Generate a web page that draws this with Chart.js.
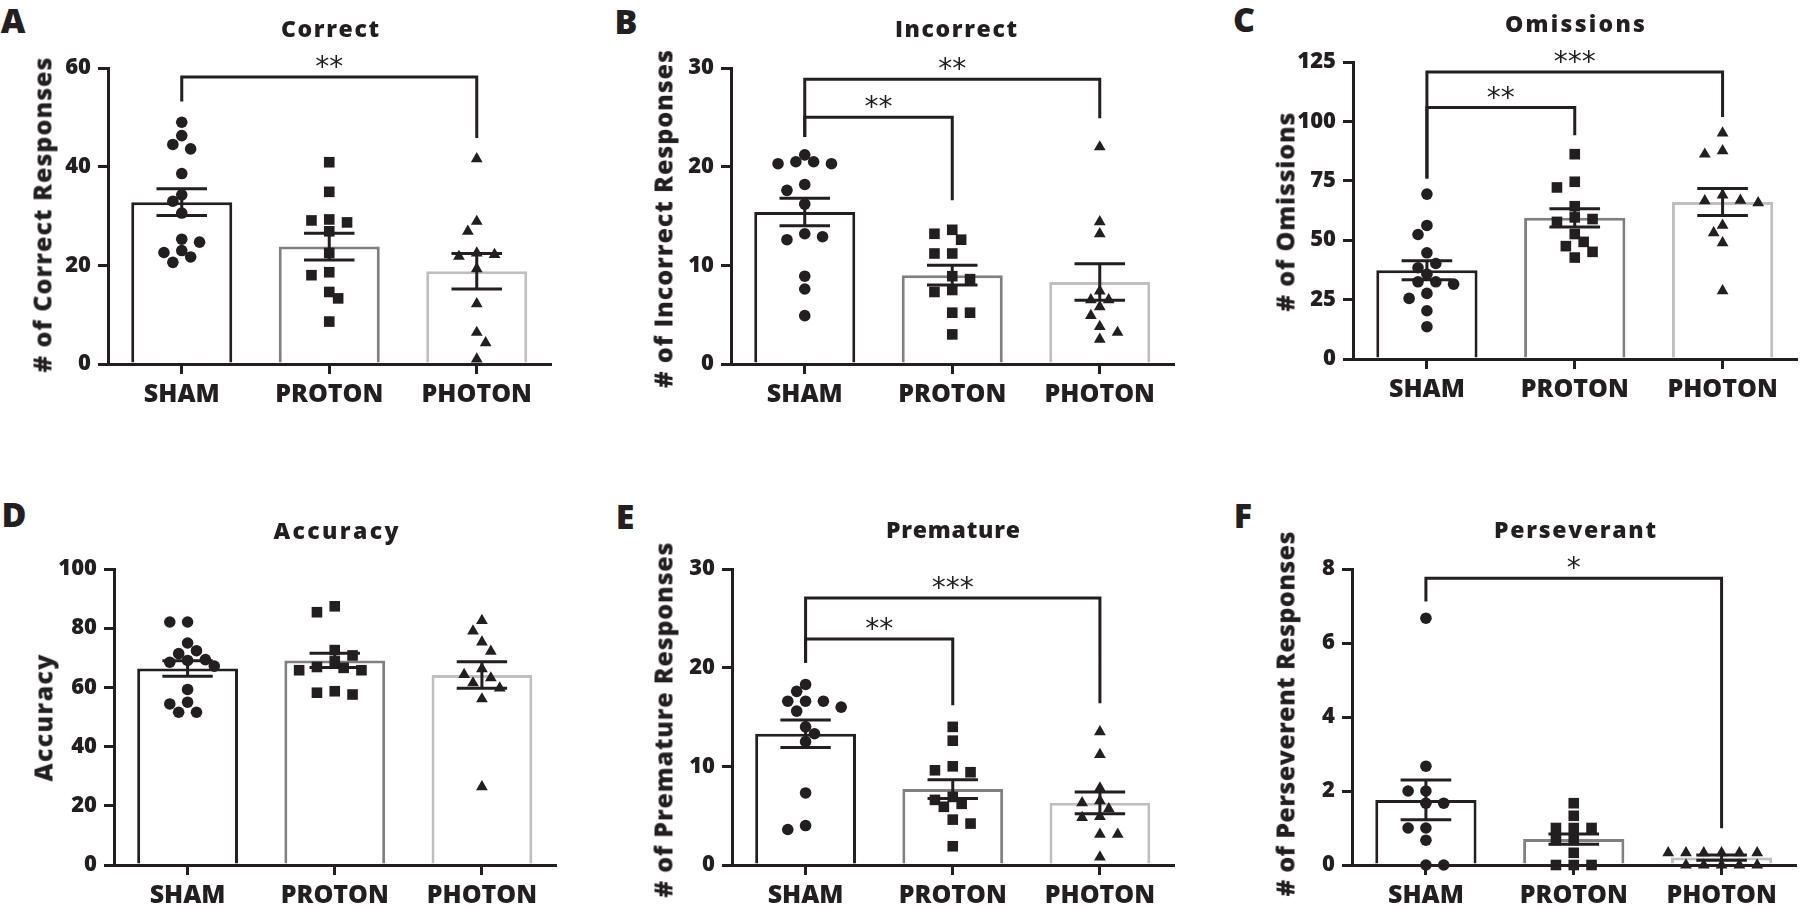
<!DOCTYPE html>
<html><head><meta charset="utf-8">
<script src="https://cdn.jsdelivr.net/npm/chart.js@4.4.1/dist/chart.umd.min.js"></script>
<style>
html,body{margin:0;padding:0;background:#fff;width:1800px;height:909px;overflow:hidden;position:relative;}
canvas{position:absolute;}
.txt{position:absolute;white-space:nowrap;font-family:'Open Sans',Lato,sans-serif;font-weight:800;color:#231f20;line-height:1;}
</style></head><body>
<script>
// ---------- DATA ----------
const groups = ['SHAM', 'PROTON', 'PHOTON'];

// A: Correct
const correctSham   = [49.0, 46.3, 44.5, 43.6, 38.6, 34.3, 33.0, 30.6, 25.3, 24.7, 23.0, 22.6, 21.7, 20.6];
const correctProton = [40.9, 34.9, 29.3, 29.1, 28.7, 26.9, 22.5, 18.6, 18.0, 14.6, 13.3, 8.6];
const correctPhoton = [41.6, 28.9, 26.9, 22.5, 22.2, 21.8, 19.3, 12.2, 6.4, 4.3, 1.0];
const correctMean = [32.8, 23.8, 18.8];
const correctSem  = [2.7, 2.7, 3.6];
const correctTicks = [0, 20, 40, 60];
const correctSig = [[0, 2, 58.2, 53.2, 45.8, '**']];

// B: Incorrect
const incorrectSham   = [21.2, 20.5, 20.5, 20.3, 20.3, 18.2, 17.6, 16.2, 13.2, 12.9, 12.6, 8.9, 7.6, 4.9];
const incorrectProton = [13.6, 13.2, 12.6, 11.2, 11.2, 8.9, 8.6, 7.5, 7.3, 5.2, 5.2, 3.0];
const incorrectPhoton = [22.0, 14.4, 13.2, 7.4, 6.5, 6.5, 5.8, 4.9, 3.8, 3.2, 2.5];
const incorrectMean = [15.4, 9.0, 8.3];
const incorrectSem  = [1.4, 1.0, 1.85];
const incorrectTicks = [0, 10, 20, 30];
const incorrectSig = [[0, 1, 25.0, 23.0, 16.6, '**'], [0, 2, 28.85, 23.0, 24.9, '**']];

// C: Omissions
const omissionsSham   = [69.4, 56.2, 52.4, 44.7, 40.2, 38.4, 35.7, 32.5, 32.5, 31.5, 27.6, 25.5, 20.3, 13.6];
const omissionsProton = [86.2, 74.6, 72.2, 64.3, 59.6, 58.9, 57.7, 52.6, 49.3, 47.5, 45.1, 42.7];
const omissionsPhoton = [95.1, 87.6, 86.2, 69.0, 66.8, 66.6, 65.7, 56.3, 53.1, 48.9, 28.7];
const omissionsMean = [37.4, 59.4, 66.1];
const omissionsSem  = [4.0, 3.8, 5.7];
const omissionsTicks = [0, 25, 50, 75, 100, 125];
const omissionsSig = [[0, 1, 105.8, 76.0, 94.2, '**'], [0, 2, 120.8, 76.0, 101.9, '***']];

// D: Accuracy
const accuracySham   = [82.1, 82.1, 75.0, 72.4, 71.4, 69.4, 69.1, 68.5, 67.2, 59.3, 55.0, 54.4, 51.6, 51.6];
const accuracyProton = [87.4, 85.4, 72.6, 70.8, 68.8, 66.9, 66.6, 65.8, 65.8, 58.7, 58.2, 57.6];
const accuracyPhoton = [82.6, 79.0, 75.3, 72.2, 66.3, 64.3, 63.2, 61.5, 59.8, 56.1, 26.4];
const accuracyMean = [66.4, 69.1, 64.2];
const accuracySem  = [2.6, 2.4, 4.5];
const accuracyTicks = [0, 20, 40, 60, 80, 100];
const accuracySig = [];

// E: Premature
const prematureSham   = [18.3, 17.6, 16.6, 16.6, 16.6, 16.0, 15.6, 14.0, 13.3, 12.5, 7.3, 4.0, 3.6];
const prematureProton = [14.0, 12.6, 10.0, 9.6, 9.4, 6.9, 6.6, 6.2, 5.9, 4.6, 4.2, 1.9];
const prematurePhoton = [13.5, 11.2, 7.8, 6.5, 6.3, 5.7, 4.9, 4.8, 3.1, 3.1, 0.8];
const prematureMean = [13.3, 7.7, 6.3];
const prematureSem  = [1.4, 0.95, 1.1];
const prematureTicks = [0, 10, 20, 30];
const prematureSig = [[0, 1, 22.9, 20.5, 16.2, '**'], [0, 2, 27.05, 20.5, 16.4, '***']];

// F: Perseverant
const perseverantSham   = [6.67, 2.67, 2.0, 2.0, 1.67, 1.67, 1.0, 1.0, 0.67, 0, 0];
const perseverantProton = [1.67, 1.33, 1.0, 1.0, 1.0, 0.67, 0.67, 0.33, 0, 0, 0];
const perseverantPhoton = [0.33, 0.33, 0.33, 0.33, 0.33, 0.33, 0, 0, 0, 0, 0];
const perseverantMean = [1.76, 0.70, 0.20];
const perseverantSem  = [0.54, 0.14, 0.07];
const perseverantTicks = [0, 2, 4, 6, 8];
const perseverantSig = [[0, 2, 7.75, 7.12, 0.99, '*']];

// ---------- STYLE / LAYOUT ----------
const INK = '#231f20';
const barColors = ['#231f20', '#808080', '#bfbfbf'];
const markers = [['circle', 5.8], ['rect', 7.5], ['triangle', 6.8]];
const FONT = '"Open Sans", Lato, sans-serif';

const panels = [
  {letter:'A', vals:[correctSham, correctProton, correctPhoton], mean:correctMean, sem:correctSem, ticks:correctTicks, sig:correctSig,
   box:[108, 552, 68, 364], title:'Correct', titlePos:[330, 28, 98], ylab:'# of Correct Responses', ylabPos:[42, 215, 315], letterPos:[13, 20]},
  {letter:'B', vals:[incorrectSham, incorrectProton, incorrectPhoton], mean:incorrectMean, sem:incorrectSem, ticks:incorrectTicks, sig:incorrectSig,
   box:[731, 1175, 68, 364], title:'Incorrect', titlePos:[956, 28, 122], ylab:'# of Incorrect Responses', ylabPos:[663, 219, 338], letterPos:[626, 21]},
  {letter:'C', vals:[omissionsSham, omissionsProton, omissionsPhoton], mean:omissionsMean, sem:omissionsSem, ticks:omissionsTicks, sig:omissionsSig,
   box:[1353, 1798, 62, 359], title:'Omissions', titlePos:[1575, 23, 140], ylab:'# of Omissions', ylabPos:[1285, 212, 199], letterPos:[1244, 19]},
  {letter:'D', vals:[accuracySham, accuracyProton, accuracyPhoton], mean:accuracyMean, sem:accuracySem, ticks:accuracyTicks, sig:accuracySig,
   box:[114, 557, 569, 865], title:'Accuracy', titlePos:[336, 530, 125], ylab:'Accuracy', ylabPos:[43, 718, 127], letterPos:[14, 514]},
  {letter:'E', vals:[prematureSham, prematureProton, prematurePhoton], mean:prematureMean, sem:prematureSem, ticks:prematureTicks, sig:prematureSig,
   box:[732, 1175, 569, 865], title:'Premature', titlePos:[953, 529, 134], ylab:'# of Premature Responses', ylabPos:[663, 720, 355], letterPos:[625, 516]},
  {letter:'F', vals:[perseverantSham, perseverantProton, perseverantPhoton], mean:perseverantMean, sem:perseverantSem, ticks:perseverantTicks, sig:perseverantSig,
   box:[1352, 1797, 569, 865], title:'Perseverant', titlePos:[1575, 529, 162], ylab:'# of Perseverent Responses', ylabPos:[1285, 714, 365], letterPos:[1243, 515]}
];

// ---------- TEXT ----------
const mctx = document.createElement('canvas').getContext('2d');
function addText(text, cx, cy, size, targetW, rotate) {
  const el = document.createElement('div');
  el.className = 'txt';
  el.textContent = text;
  el.style.fontSize = size + 'px';
  if (targetW) {
    mctx.font = `800 ${size}px ${FONT}`;
    const w = mctx.measureText(text).width;
    const ls = (targetW - w) / (text.length - 1);
    el.style.letterSpacing = ls + 'px';
    el.style.paddingLeft = Math.max(0, ls) + 'px';
  }
  el.style.left = cx + 'px';
  el.style.top = cy + 'px';
  el.style.transform = 'translate(-50%,-50%)' + (rotate ? ' rotate(-90deg)' : '');
  document.body.appendChild(el);
}

// ---------- PLUGINS ----------
function overlayPlugin(p) {
  return {
    id: 'overlay' + p.letter,
    afterDatasetsDraw(chart) {
      const ctx = chart.ctx, xs = chart.scales.x, ys = chart.scales.y;
      ctx.save();
      ctx.strokeStyle = INK; ctx.lineWidth = 3; ctx.lineCap = 'butt'; ctx.lineJoin = 'miter';
      // error bars (mean +/- SEM)
      chart.getDatasetMeta(0).data.forEach((bar, i) => {
        const x = bar.x, hw = bar.width / 4;
        const t = ys.getPixelForValue(p.mean[i] + p.sem[i]);
        const b = ys.getPixelForValue(Math.max(0, p.mean[i] - p.sem[i]));
        ctx.beginPath();
        ctx.moveTo(x, t); ctx.lineTo(x, b);
        ctx.moveTo(x - hw, t); ctx.lineTo(x + hw, t);
        ctx.moveTo(x - hw, b); ctx.lineTo(x + hw, b);
        ctx.stroke();
      });
      // significance brackets
      ctx.fillStyle = INK;
      ctx.font = `400 28px "DejaVu Sans"`;
      ctx.textAlign = 'center';
      ctx.textBaseline = 'alphabetic';
      p.sig.forEach(([a, b, y, la, lb, label]) => {
        const xa = xs.getPixelForValue(a), xb = xs.getPixelForValue(b), py = ys.getPixelForValue(y);
        ctx.beginPath();
        ctx.moveTo(xa, ys.getPixelForValue(la));
        ctx.lineTo(xa, py); ctx.lineTo(xb, py);
        ctx.lineTo(xb, ys.getPixelForValue(lb));
        ctx.stroke();
        const m = ctx.measureText(label);
        const cy = py - 15;
        ctx.fillText(label, (xa + xb) / 2, cy + (m.actualBoundingBoxAscent - m.actualBoundingBoxDescent) / 2);
      });
      ctx.restore();
    }
  };
}

// beeswarm offsets computed from the chart's own scales
function swarm(chart, cat, values, stepPx, minDist) {
  const xs = chart.scales.x, ys = chart.scales.y;
  const unit = xs.getPixelForValue(1) - xs.getPixelForValue(0);
  const order = values.map((v, i) => i).sort((a, b) => values[b] - values[a]);
  const placed = [];
  const offs = new Array(values.length).fill(0);
  for (const i of order) {
    const py = ys.getPixelForValue(values[i]);
    const free = px => placed.every(q => Math.hypot(q.x - px, q.y - py) >= minDist);
    for (let k = 0; k < 60; k++) {
      let found = null;
      if (k === 0) { if (free(0)) found = 0; }
      else {
        const left = placed.filter(q => q.x < 0).length, right = placed.filter(q => q.x > 0).length;
        const cands = left <= right ? [-k, k] : [k, -k];
        for (const c of cands) { if (free(c * stepPx)) { found = c * stepPx; break; } }
      }
      if (found !== null) { offs[i] = found; placed.push({x: found, y: py}); break; }
    }
  }
  return values.map((v, i) => ({x: cat + offs[i] / unit, y: v}));
}

// ---------- CHARTS ----------
const PADL = 80, PADT = 60, PADB = 62, PADR = 6;
panels.forEach(p => {
  const [axL, axR, axT, axB] = p.box;
  const cv = document.createElement('canvas');
  const W = axR - axL + PADL + PADR, H = axB - axT + PADT + PADB;
  cv.width = W; cv.height = H;
  cv.style.left = (axL - PADL) + 'px';
  cv.style.top = (axT - PADT) + 'px';
  cv.style.width = W + 'px'; cv.style.height = H + 'px';
  document.body.appendChild(cv);

  const datasets = [{
    type: 'bar',
    data: p.mean.map((m, i) => ({x: i, y: m})),
    backgroundColor: '#ffffff',
    borderColor: barColors,
    borderWidth: 3,
    barPercentage: 0.685,
    categoryPercentage: 1,
    order: 10
  }];
  p.vals.forEach((vals, g) => {
    datasets.push({
      type: 'scatter',
      data: vals.map(v => ({x: g, y: v})),
      pointStyle: markers[g][0],
      pointRadius: markers[g][1],
      pointBackgroundColor: INK,
      pointBorderWidth: 0,
      pointBorderColor: INK,
      clip: false,
      order: 1
    });
  });

  const chart = new Chart(cv, {
    type: 'bar',
    data: {datasets},
    options: {
      responsive: false,
      animation: false,
      devicePixelRatio: 1,
      layout: {padding: {left: 0, top: PADT, right: PADR, bottom: 0}},
      plugins: {legend: {display: false}, tooltip: {enabled: false}, title: {display: false}},
      scales: {
        x: {
          type: 'linear', min: -0.5, max: 2.5, offset: false,
          afterBuildTicks: s => { s.ticks = groups.map((g, i) => ({value: i})); },
          afterFit: s => { s.height = PADB; },
          ticks: {
            autoSkip: false, maxRotation: 0, padding: 6, color: INK,
            font: {family: FONT, size: 25, weight: '800'},
            callback: (v) => groups[Math.round(v)]
          },
          grid: {display: true, drawOnChartArea: false, drawTicks: true, tickLength: 10, lineWidth: 3, color: INK, offset: false},
          border: {display: true, width: 3, color: INK}
        },
        y: {
          type: 'linear', min: p.ticks[0], max: p.ticks[p.ticks.length - 1],
          afterBuildTicks: s => { s.ticks = p.ticks.map(v => ({value: v})); },
          afterFit: s => { s.width = PADL; },
          ticks: {padding: 7, color: INK, font: {family: FONT, size: 22, weight: '800'}},
          grid: {display: true, drawOnChartArea: false, drawTicks: true, tickLength: 10, lineWidth: 3, color: INK},
          border: {display: true, width: 3, color: INK}
        }
      }
    },
    plugins: [overlayPlugin(p)]
  });

  p.vals.forEach((vals, g) => {
    chart.data.datasets[g + 1].data = swarm(chart, g, vals, 8.9, 10.8);
  });
  chart.update('none');

  addText(p.letter, p.letterPos[0], p.letterPos[1], 34);
  addText(p.title, p.titlePos[0], p.titlePos[1], 23, p.titlePos[2]);
  addText(p.ylab, p.ylabPos[0], p.ylabPos[1], 25, p.ylabPos[2], true);
});
</script>
</body></html>
